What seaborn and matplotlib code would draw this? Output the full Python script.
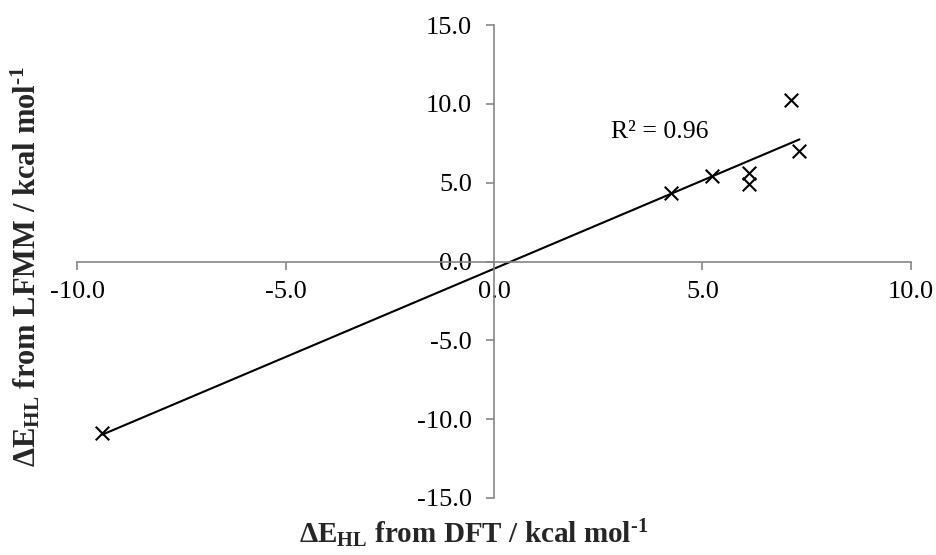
import numpy as np
import pandas as pd
import matplotlib
matplotlib.use("Agg")
import matplotlib.pyplot as plt
import seaborn as sns

# Spin-state energy gaps: DFT reference vs. LFMM prediction (kcal/mol)
dft = [-9.40, 4.24, 5.22, 6.11, 6.11, 7.12, 7.33]
lfmm = [-10.87, 4.35, 5.43, 5.62, 4.92, 10.24, 7.01]

x_ticks = [-10.0, -5.0, 0.0, 5.0, 10.0]
y_ticks = [-15.0, -10.0, -5.0, 0.0, 5.0, 10.0, 15.0]

df = pd.DataFrame({"dft": dft, "lfmm": lfmm})

sns.set_theme(style="white")
plt.rcParams["font.family"] = ["Liberation Serif", "DejaVu Serif"]
plt.rcParams["mathtext.fontset"] = "custom"
plt.rcParams["mathtext.rm"] = "Liberation Serif"
plt.rcParams["mathtext.it"] = "Liberation Serif:italic"
plt.rcParams["mathtext.bf"] = "Liberation Serif:bold"

fig = plt.figure(figsize=(9.37, 5.55), dpi=100)
ax = fig.add_axes([77.3 / 937, 1 - 498 / 555, (910.7 - 77.3) / 937, (498 - 25) / 555])

axis_grey = "#868686"

# linear trendline over the data range
sns.regplot(data=df, x="dft", y="lfmm", ax=ax, scatter=False, ci=None,
            truncate=True, line_kws={"color": "black", "lw": 1.5})
sns.scatterplot(data=df, x="dft", y="lfmm", ax=ax, marker="x", s=95,
                color="black", linewidth=1.5, zorder=5)

slope, intercept = np.polyfit(df["dft"], df["lfmm"], 1)
pred = slope * df["dft"] + intercept
r2 = 1 - ((df["lfmm"] - pred) ** 2).sum() / ((df["lfmm"] - df["lfmm"].mean()) ** 2).sum()
ax.text(2.8, 8.22, f"R² = {r2:.2f}", fontsize=18.5, ha="left", va="center",
        color="black")

ax.set_xlim(-10, 10)
ax.set_ylim(-15, 15)
ax.set_xticks(x_ticks)
ax.set_yticks(y_ticks)
ax.set_xticklabels([f"{v:.1f}" for v in x_ticks])
ax.set_yticklabels([f"{v:.1f}" for v in y_ticks])

# axes crossing at the origin
ax.spines["left"].set_position(("data", 0))
ax.spines["bottom"].set_position(("data", 0))
ax.spines["right"].set_visible(False)
ax.spines["top"].set_visible(False)
for s in ("left", "bottom"):
    ax.spines[s].set_color(axis_grey)
    ax.spines[s].set_linewidth(1.2)

ax.tick_params(axis="x", direction="out", length=5.5, width=1.2, color=axis_grey,
               pad=8.5, labelsize=19, labelcolor="black", bottom=True)
ax.tick_params(axis="y", direction="out", length=5.5, width=1.2, color=axis_grey,
               pad=10.5, labelsize=19, labelcolor="black", left=True)

ax.set_xlabel("")
ax.set_ylabel("")
ax.grid(False)

hy = "\u2010"
fig.text(474 / 937, 1 - 534 / 555,
         r"$\mathbf{\Delta E_{HL}}$ from DFT / kcal mol$^{\mathbf{" + hy + "1}}$",
         fontsize=21, fontweight="bold", ha="center", va="center")
fig.text(26 / 937, 1 - 266 / 555,
         r"$\mathbf{\Delta E_{HL}}$ from LFMM / kcal mol$^{\mathbf{" + hy + "1}}$",
         fontsize=22, fontweight="bold", ha="center", va="center",
         rotation=90)

fig.savefig("out.png", dpi=100, facecolor="white")
